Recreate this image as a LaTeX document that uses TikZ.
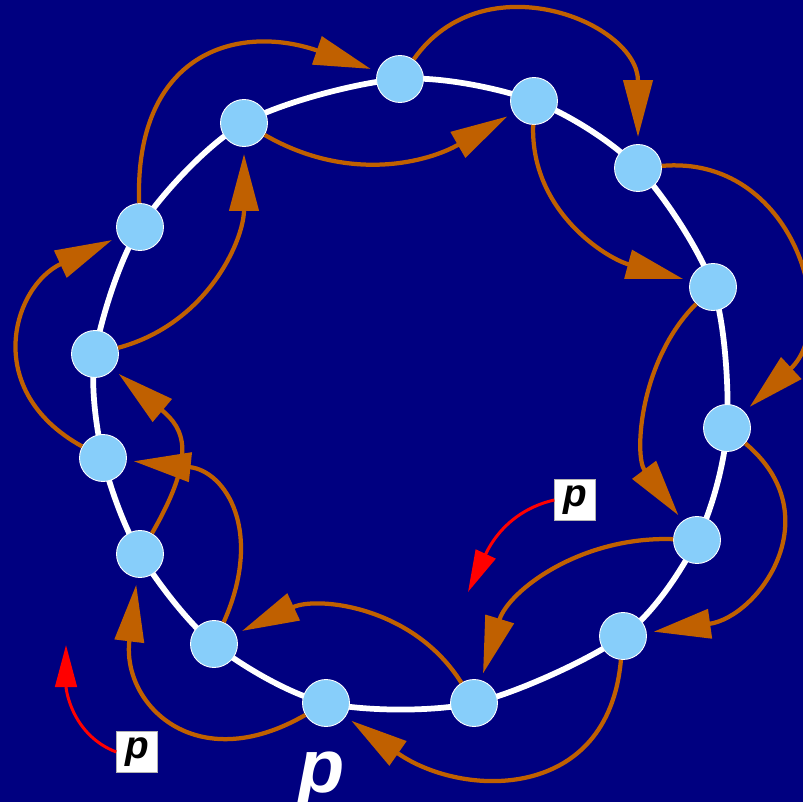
\documentclass[tikz,border=0pt]{standalone}
\usepackage{fontspec}
\newfontfamily\pfont{Liberation Sans}
\usetikzlibrary{arrows.meta}
\definecolor{bgnavy}{RGB}{0,0,128}
\definecolor{ballblue}{RGB}{135,206,250}
\definecolor{rust}{RGB}{192,96,0}
\tikzset{
  ball/.style={circle, fill=ballblue, draw=white, line width=0.5pt, minimum size=0.94cm, inner sep=0pt},
  ring/.style={white, line width=0.115cm},
  hop/.style={rust, line width=0.085cm, -{Triangle[length=1.14cm,width=0.58cm]}, shorten >=0.14cm},
  redhop/.style={red, line width=0.06cm, -{Triangle[length=0.84cm,width=0.43cm]}},
  pbox/.style={fill=white, draw=gray!60, line width=0.3pt, minimum size=0.82cm, inner sep=0pt, font=\pfont\bfseries\itshape\fontsize{22}{22}\selectfont}
}
\begin{document}
\begin{tikzpicture}[x=0.02cm, y=0.02cm]
\useasboundingbox (0,0) rectangle (803,802);
\clip (0,0) rectangle (803,802);
\fill[bgnavy] (0,0) rectangle (803,802);
\coordinate (c1) at (400,723);
\coordinate (c2) at (534,701);
\coordinate (c3) at (638,634);
\coordinate (c4) at (713,515);
\coordinate (c5) at (727,374);
\coordinate (c6) at (697,262);
\coordinate (c7) at (623,166);
\coordinate (c8) at (474,99);
\coordinate (c9) at (326,99);
\coordinate (c10) at (214,158);
\coordinate (c11) at (140,248);
\coordinate (c12) at (103,344);
\coordinate (c13) at (95,448);
\coordinate (c14) at (140,575);
\coordinate (c15) at (244,679);
\draw[ring] plot[smooth cycle] coordinates {(c1) (c2) (c3) (c4) (c5) (c6) (c7) (c8) (c9) (c10) (c11) (c12) (c13) (c14) (c15)};
\node[ball] (n1) at (c1) {};
\node[ball] (n2) at (c2) {};
\node[ball] (n3) at (c3) {};
\node[ball] (n4) at (c4) {};
\node[ball] (n5) at (c5) {};
\node[ball] (n6) at (c6) {};
\node[ball] (n7) at (c7) {};
\node[ball] (n8) at (c8) {};
\node[ball] (n9) at (c9) {};
\node[ball] (n10) at (c10) {};
\node[ball] (n11) at (c11) {};
\node[ball] (n12) at (c12) {};
\node[ball] (n13) at (c13) {};
\node[ball] (n14) at (c14) {};
\node[ball] (n15) at (c15) {};
\draw[hop] (n1) to[out=55,in=90,looseness=1.3] (n3);
\draw[hop] (n2) to[out=268,in=165,looseness=1] (n4);
\draw[hop] (n3) to[out=5,in=43,looseness=1.3] (n5);
\draw[hop] (n4) to[out=225,in=127,looseness=0.95] (n6);
\draw[hop] (n5) to[out=320,in=8,looseness=1.35] (n7);
\draw[hop] (n6) to[out=178,in=73,looseness=1] (n8);
\draw[hop] (n7) to[out=265,in=325,looseness=1.3] (n9);
\draw[hop] (n8) to[out=122,in=25,looseness=1] (n10);
\draw[hop] (n9) to[out=210,in=263,looseness=1.5] (n11);
\draw[hop] (n10) to[out=66,in=354,looseness=1.35] (n12);
\draw[hop] (n11) to[out=60,in=320,looseness=1.4] (n13);
\draw[hop] (n12) to[out=151,in=205,looseness=1.4] (n14);
\draw[hop] (n13) to[out=15,in=270,looseness=1] (n15);
\draw[hop] (n14) to[out=92,in=161,looseness=1.4] (n1);
\draw[hop] (n15) to[out=330,in=210,looseness=1] (n2);
\node[pbox] (pa) at (575,302) {p};
\node[pbox] (pb) at (137,50) {p};
\coordinate (ta) at (468,210);
\coordinate (tb) at (66,157);
\draw[redhop] (pa.west) to[out=193,in=65] (ta);
\draw[redhop] (pb.west) to[out=159,in=270] (tb);
\node[white, anchor=base, font=\pfont\bfseries\itshape\fontsize{43}{43}\selectfont] (bigp) at (322,10) {p};
\end{tikzpicture}
\end{document}
